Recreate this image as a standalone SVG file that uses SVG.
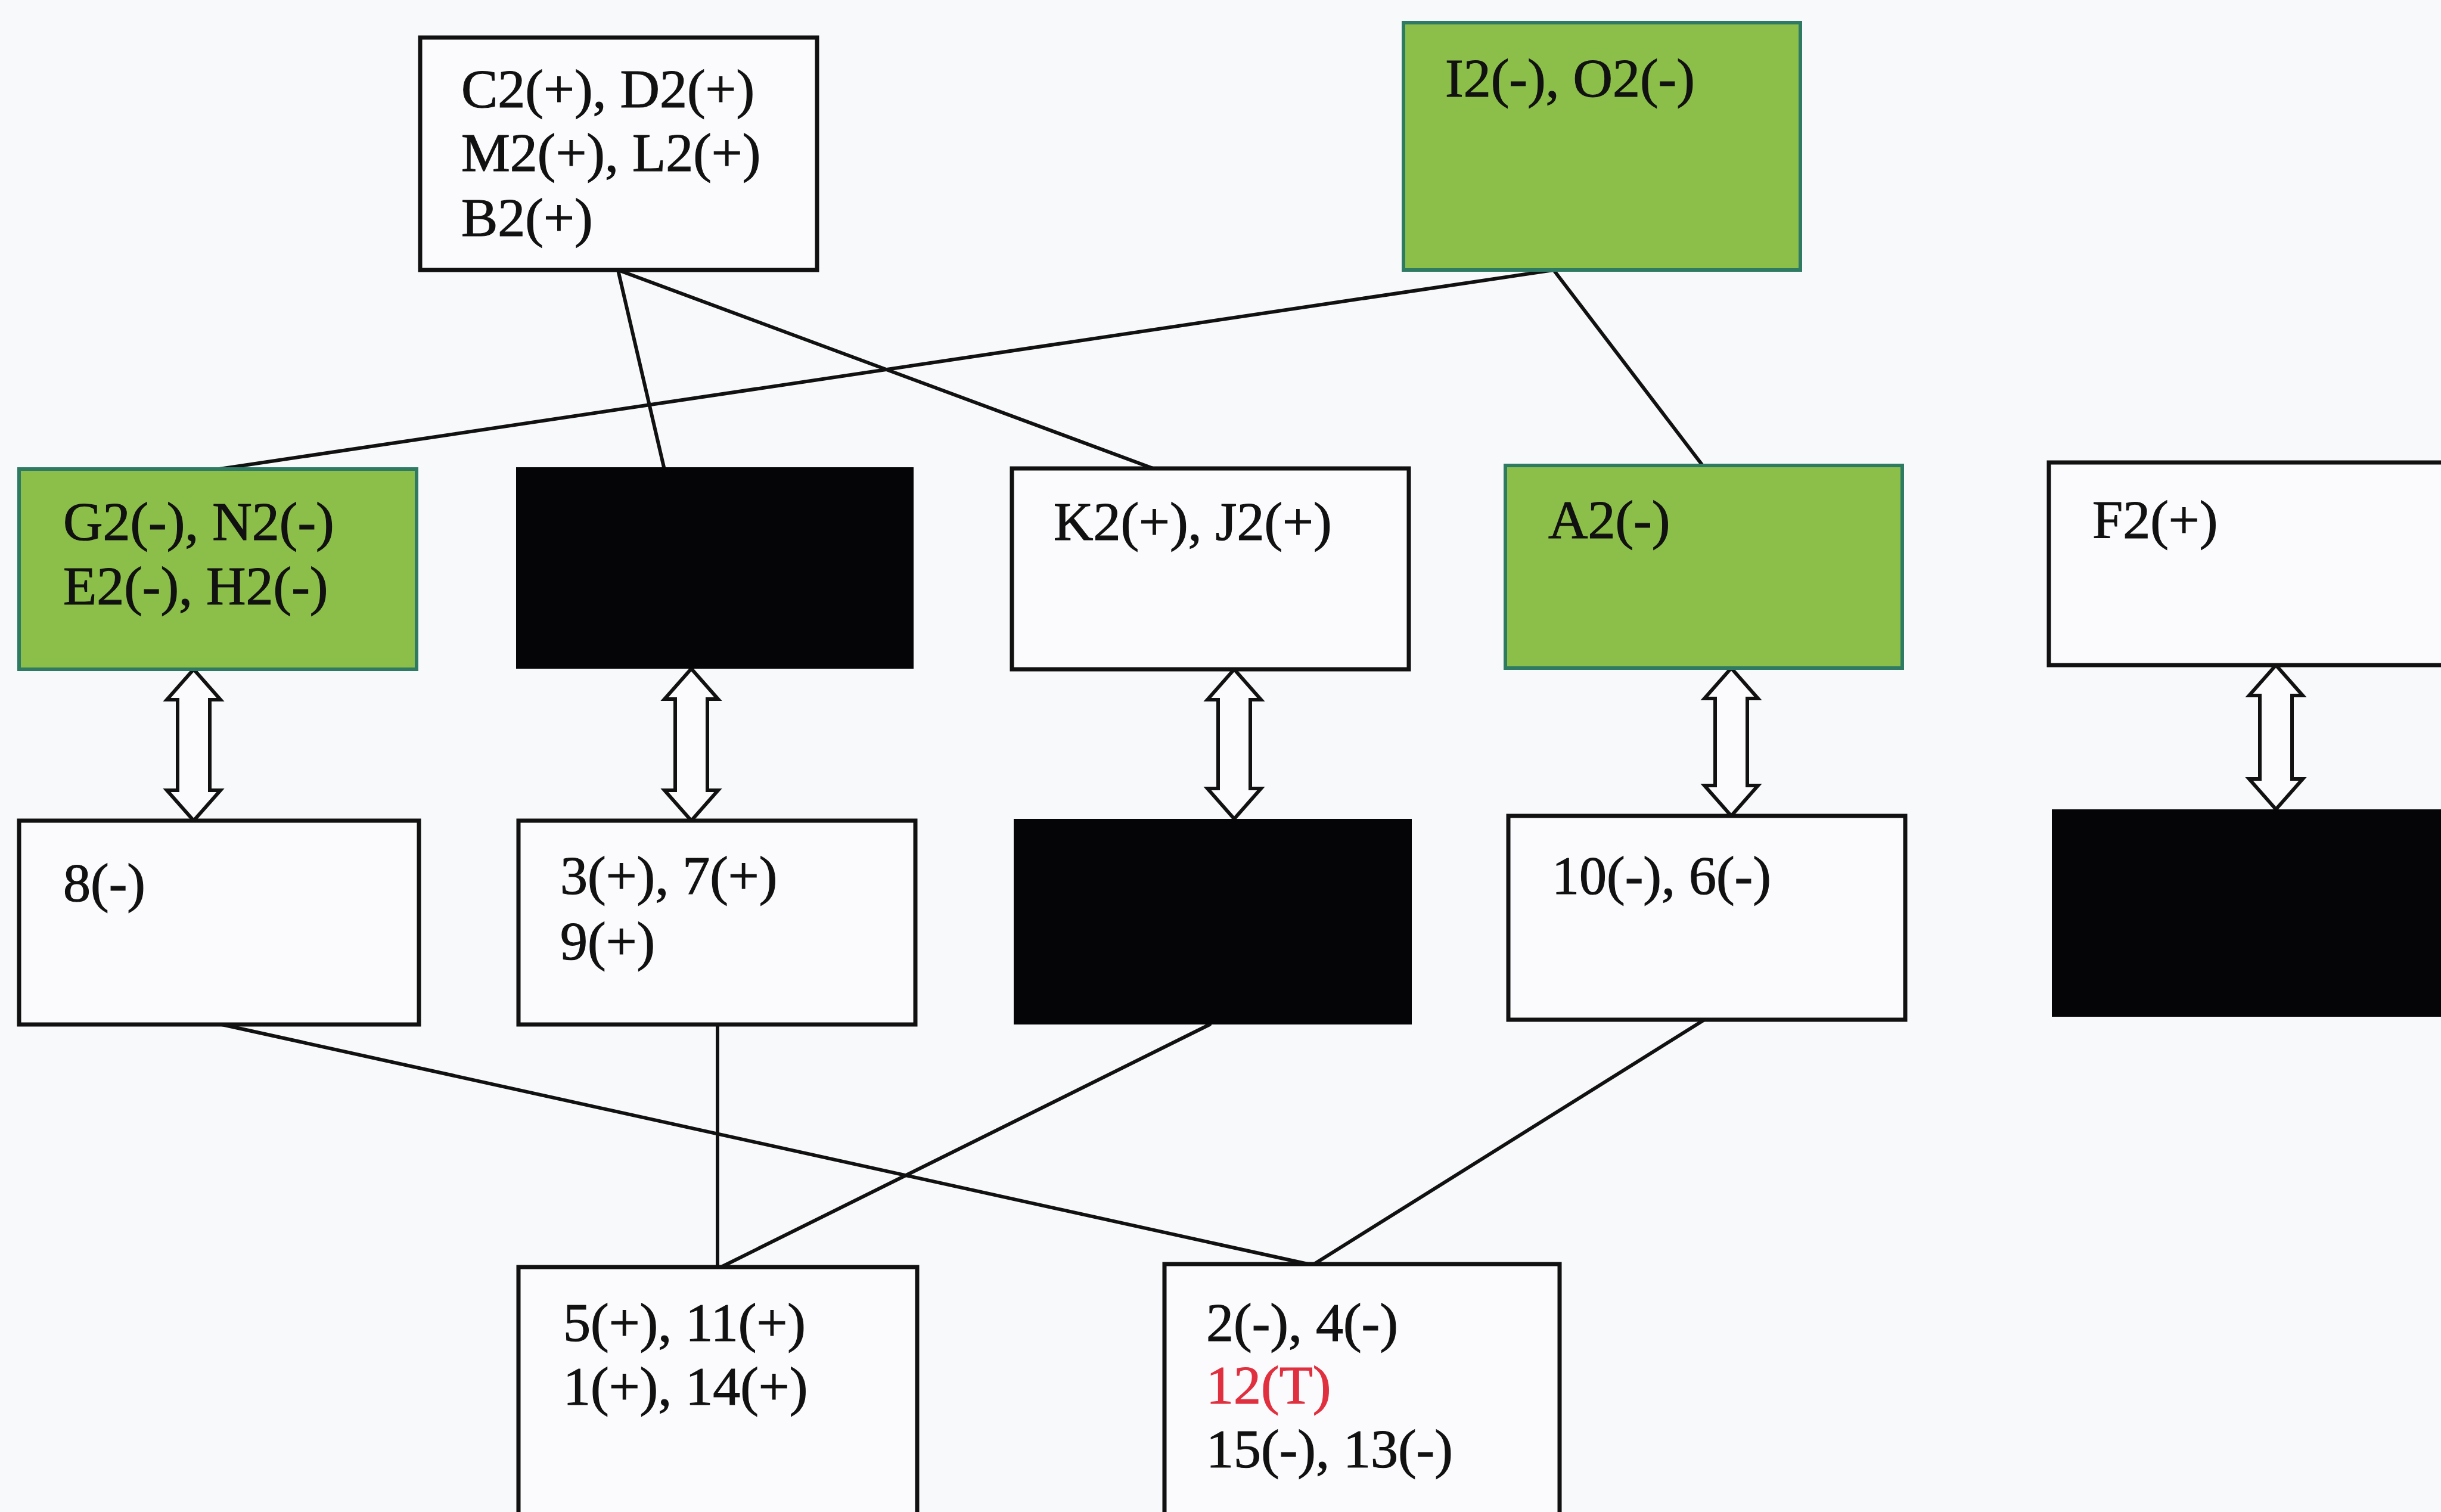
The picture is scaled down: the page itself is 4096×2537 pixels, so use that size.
<svg xmlns="http://www.w3.org/2000/svg" width="4096" height="2537" viewBox="0 0 4096 2537">
<style>
.box{fill:#fbfbfd;stroke:#111;stroke-width:7}
.green{fill:#8cbf4a;stroke:#2f7a62;stroke-width:6}
.black{fill:#050508;stroke:none}
.lbl{font-family:"Liberation Serif","Times New Roman",serif;font-size:92px;fill:#111;stroke:#111;stroke-width:1.2}
.red{fill:#e0303f;stroke:#e0303f}
.conn line{stroke:#111;stroke-width:6;stroke-linecap:round}
.dbl{fill:#fbfbfd;stroke:#111;stroke-width:6;stroke-linejoin:miter}
</style>
<rect x="0" y="0" width="4096" height="2537" fill="#f8f9fb"/>
<g id="connectors" class="conn">
<line x1="1037" y1="453" x2="1114" y2="784"/>
<line x1="1037" y1="453" x2="1935" y2="786"/>
<line x1="2607" y1="453" x2="368" y2="787"/>
<line x1="2607" y1="453" x2="2857" y2="781"/>
<line x1="372" y1="1719" x2="2195" y2="2121"/>
<line x1="1204" y1="1719" x2="1204" y2="2126"/>
<line x1="2030" y1="1719" x2="1210" y2="2126"/>
<line x1="2860" y1="1711" x2="2205" y2="2121"/>
</g>
<g id="arrows">
<polygon class="dbl" points="325,1123 370,1174 352,1174 352,1326 370,1326 325,1377 280,1326 298,1326 298,1174 280,1174"/>
<polygon class="dbl" points="1160,1122 1205,1173 1187,1173 1187,1326 1205,1326 1160,1377 1115,1326 1133,1326 1133,1173 1115,1173"/>
<polygon class="dbl" points="2071,1123 2116,1174 2098,1174 2098,1323 2116,1323 2071,1374 2026,1323 2044,1323 2044,1174 2026,1174"/>
<polygon class="dbl" points="2905,1121 2950,1172 2932,1172 2932,1318 2950,1318 2905,1369 2860,1318 2878,1318 2878,1172 2860,1172"/>
<polygon class="dbl" points="3819,1116 3864,1167 3846,1167 3846,1307 3864,1307 3819,1358 3774,1307 3792,1307 3792,1167 3774,1167"/>
</g>
<g id="n-c2">
<rect class="box" x="705" y="63" width="666" height="390"/>
<text class="lbl" x="774" y="180">C2(+), D2(+)</text>
<text class="lbl" x="774" y="287">M2(+), L2(+)</text>
<text class="lbl" x="774" y="396">B2(+)</text>
</g>
<g id="n-i2">
<rect class="green" x="2355" y="38" width="666" height="415"/>
<text class="lbl" x="2425" y="162">I2(-), O2(-)</text>
</g>
<g id="n-g2">
<rect class="green" x="32" y="787" width="667" height="336"/>
<text class="lbl" x="106" y="906">G2(-), N2(-)</text>
<text class="lbl" x="106" y="1014">E2(-), H2(-)</text>
</g>
<g id="n-black1">
<rect class="black" x="866" y="784" width="667" height="338"/>
</g>
<g id="n-k2">
<rect class="box" x="1698" y="786" width="666" height="337"/>
<text class="lbl" x="1768" y="906">K2(+), J2(+)</text>
</g>
<g id="n-a2">
<rect class="green" x="2526" y="781" width="666" height="340"/>
<text class="lbl" x="2598" y="903">A2(-)</text>
</g>
<g id="n-f2">
<rect class="box" x="3438" y="776" width="720" height="340"/>
<text class="lbl" x="3511" y="903">F2(+)</text>
</g>
<g id="n-8">
<rect class="box" x="32" y="1377" width="671" height="342"/>
<text class="lbl" x="106" y="1512">8(-)</text>
</g>
<g id="n-3">
<rect class="box" x="870" y="1377" width="666" height="342"/>
<text class="lbl" x="940" y="1500">3(+), 7(+)</text>
<text class="lbl" x="940" y="1610">9(+)</text>
</g>
<g id="n-black2">
<rect class="black" x="1701" y="1374" width="668" height="345"/>
</g>
<g id="n-10">
<rect class="box" x="2531" y="1369" width="666" height="342"/>
<text class="lbl" x="2604" y="1500">10(-), 6(-)</text>
</g>
<g id="n-black3">
<rect class="black" x="3443" y="1358" width="720" height="348"/>
</g>
<g id="n-5">
<rect class="box" x="870" y="2126" width="669" height="450"/>
<text class="lbl" x="945" y="2250">5(+), 11(+)</text>
<text class="lbl" x="945" y="2357">1(+), 14(+)</text>
</g>
<g id="n-2">
<rect class="box" x="1954" y="2121" width="663" height="450"/>
<text class="lbl" x="2024" y="2250">2(-), 4(-)</text>
<text class="lbl red" x="2024" y="2355">12(T)</text>
<text class="lbl" x="2024" y="2462">15(-), 13(-)</text>
</g>
</svg>
